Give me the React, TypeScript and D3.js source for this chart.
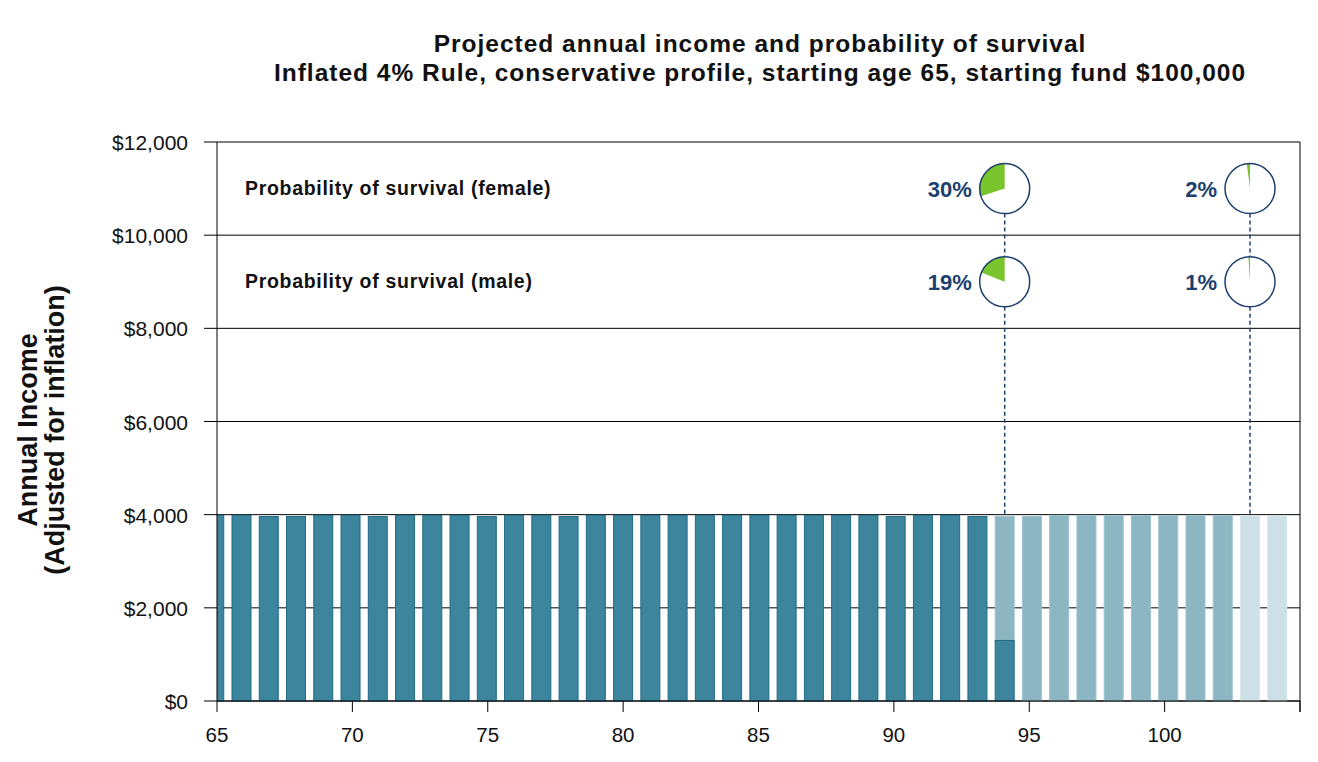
import React from "react";
import * as d3 from "d3";

// ---- data ----
const ages: number[] = d3.range(65, 105);
const annualIncome: number[] = [
  3985, 3985, 3960, 3960, 3985, 3985, 3960, 3985, 3985, 3985,
  3960, 3985, 3985, 3960, 3985, 3985, 3985, 3985, 3985, 3985,
  3985, 3985, 3985, 3985, 3985, 3960, 3985, 3985, 3960, 3960,
  3960, 3985, 3985, 3985, 3985, 3985, 3985, 3985, 3980, 3970,
];
// portion of income paid by the fund (rest is shortfall)
const fundedIncome: number[] = [
  3985, 3985, 3960, 3960, 3985, 3985, 3960, 3985, 3985, 3985,
  3960, 3985, 3985, 3960, 3985, 3985, 3985, 3985, 3985, 3985,
  3985, 3985, 3985, 3985, 3985, 3960, 3985, 3985, 3960, 1300,
  0, 0, 0, 0, 0, 0, 0, 0, 0, 0,
];
// shortfall shading: 1 = before 2% survival point, 2 = beyond
const shortfallShade: number[] = [
  1, 1, 1, 1, 1, 1, 1, 1, 1, 1,
  1, 1, 1, 1, 1, 1, 1, 1, 1, 1,
  1, 1, 1, 1, 1, 1, 1, 1, 1, 1,
  1, 1, 1, 1, 1, 1, 1, 1, 2, 2,
];
const yTicks: number[] = [0, 2000, 4000, 6000, 8000, 10000, 12000];
const xTicks: number[] = [65, 70, 75, 80, 85, 90, 95, 100, 105];
const xTickLabels: string[] = ["65", "70", "75", "80", "85", "90", "95", "100", ""];
const survivalAges: number[] = [94, 103];
const femaleSurvival: number[] = [30, 2];
const maleSurvival: number[] = [19, 1];
const titleLines: string[] = [
  "Projected annual income and probability of survival",
  "Inflated 4% Rule, conservative profile, starting age 65, starting fund $100,000",
];

const W = 1318;
const H = 762;
const FONT = "'Liberation Sans', Arial, Helvetica, sans-serif";
const NAVY = "#1c3f6e";

export default function App() {
  const left = 217, right = 1300, top = 142, bottom = 701;
  const x = d3.scaleLinear().domain([65, 105]).range([left, right]);
  const xBar = d3.scaleLinear().domain([66, 103]).range([241.5, 1250]);
  const y = d3.scaleLinear().domain([0, 12000]).range([bottom, top]);
  const barW = 19;
  const pieR = 25;
  const fmt = (v: number) => "$" + d3.format(",")(v);
  const arc = d3.arc<any>().innerRadius(0).outerRadius(pieR);

  return (
    <svg width={W} height={H} style={{ position: "absolute", left: 0, top: 0, background: "#fff" }} fontFamily={FONT}>
      <defs>
        <clipPath id="plot">
          <rect x={left} y={top} width={right - left} height={bottom - top + 1} />
        </clipPath>
      </defs>
      {/* title */}
      {titleLines.map((t, i) => (
        <text key={i} x={760} y={52 + i * 29} textAnchor="middle" fontSize={24.5} letterSpacing={1} fontWeight="bold" fill="#111">
          {t}
        </text>
      ))}
      {/* y label */}
      <g transform={`translate(0, 430) rotate(-90)`}>
        <text x={0} y={37} textAnchor="middle" fontSize={27} fontWeight="bold" fill="#111">Annual Income</text>
        <text x={0} y={64} textAnchor="middle" fontSize={27} fontWeight="bold" fill="#111">(Adjusted for inflation)</text>
      </g>
      {/* gridlines & y ticks */}
      {yTicks.map((t) => (
        <g key={t}>
          <line x1={left - 13} x2={right} y1={y(t)} y2={y(t)} stroke="#000" strokeWidth={1} />
          <text x={188} y={y(t) + 8} textAnchor="end" fontSize={21} fill="#111">{fmt(t)}</text>
        </g>
      ))}
      {/* bars */}
      <g clipPath="url(#plot)">
        {ages.map((a, i) => {
          const cx = xBar(a);
          const total = annualIncome[i];
          const funded = fundedIncome[i];
          const shade = shortfallShade[i];
          return (
            <g key={a}>
              {total > funded && (
                <rect
                  x={cx - barW / 2}
                  y={y(total)}
                  width={barW}
                  height={y(funded) - y(total)}
                  fill={shade === 1 ? "#8db6c3" : "#cde0e6"}
                  stroke={shade === 1 ? "#9cc3cf" : "#d6e7ec"}
                  strokeWidth={1}
                />
              )}
              {funded > 0 && (
                <rect
                  x={cx - barW / 2}
                  y={y(funded)}
                  width={barW}
                  height={y(0) - y(funded)}
                  fill="#3d859c"
                  stroke="#1f6c87"
                  strokeWidth={1}
                />
              )}
            </g>
          );
        })}
      </g>
      {/* axes frame */}
      <line x1={left} x2={left} y1={top} y2={bottom} stroke="#000" />
      <line x1={right} x2={right} y1={top} y2={bottom + 11} stroke="#000" />
      <line x1={left} x2={right} y1={bottom} y2={bottom} stroke="#000" />
      {xTicks.map((t, i) => (
        <g key={t}>
          <line x1={x(t)} x2={x(t)} y1={bottom} y2={bottom + 11} stroke="#000" />
          <text x={x(t)} y={742} textAnchor="middle" fontSize={20.5} fill="#111">{xTickLabels[i]}</text>
        </g>
      ))}
      {/* legend rows */}
      <text x={245} y={y(11000) + 6} fontSize={19.5} letterSpacing={0.7} fontWeight="bold" fill="#111">Probability of survival (female)</text>
      <text x={245} y={y(9000) + 6} fontSize={19.5} letterSpacing={0.7} fontWeight="bold" fill="#111">Probability of survival (male)</text>
      {/* survival pies */}
      {survivalAges.map((a, i) => {
        const cx = xBar(a);
        const rows = [
          { v: femaleSurvival[i], cy: y(11000) },
          { v: maleSurvival[i], cy: y(9000) },
        ];
        return (
          <g key={a}>
            <line x1={cx} x2={cx} y1={rows[0].cy + pieR} y2={rows[1].cy - pieR} stroke={NAVY} strokeWidth={1.5} strokeDasharray="4,3" />
            <line x1={cx} x2={cx} y1={rows[1].cy + pieR} y2={y(4000)} stroke={NAVY} strokeWidth={1.5} strokeDasharray="4,3" />
            {rows.map((r, j) => (
              <g key={j} transform={`translate(${cx},${r.cy})`}>
                <circle r={pieR} fill="#fff" />
                <path d={arc({ startAngle: 0, endAngle: (-2 * Math.PI * r.v) / 100 }) || ""} fill="#7ac52e" />
                <circle r={pieR} fill="none" stroke={NAVY} strokeWidth={1.5} />
                <text x={-pieR - 8} y={8} textAnchor="end" fontSize={22} fontWeight="bold" fill={NAVY}>{r.v}%</text>
              </g>
            ))}
          </g>
        );
      })}
    </svg>
  );
}
